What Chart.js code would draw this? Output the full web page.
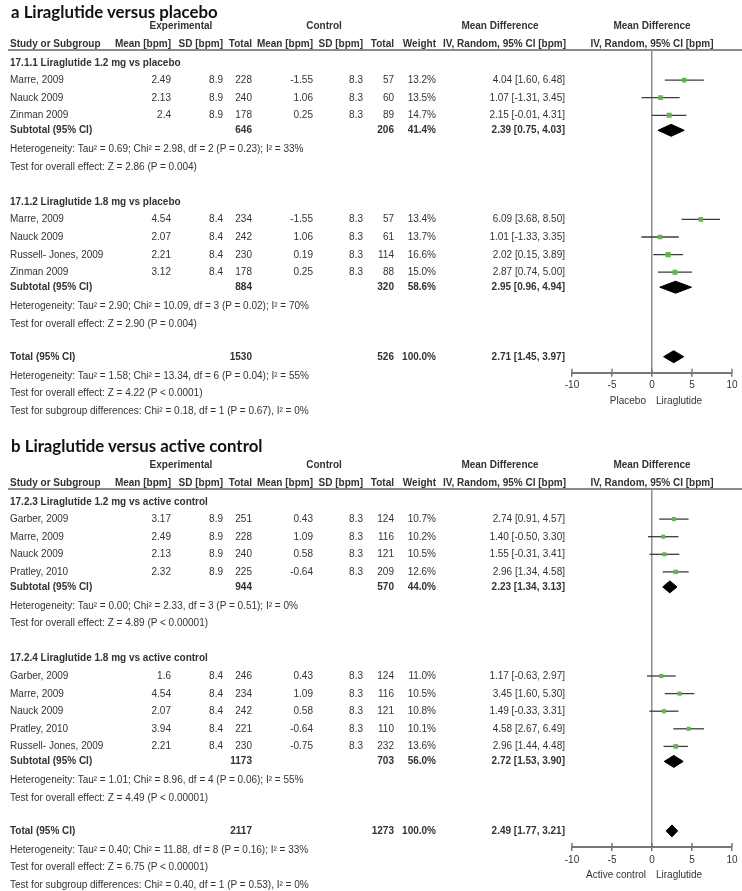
<!DOCTYPE html>
<html>
<head>
<meta charset="utf-8">
<script src="https://cdn.jsdelivr.net/npm/chart.js@4.4.1/dist/chart.umd.min.js"></script>
<style>
  body { margin: 0; background: #fff; }
  #page { position: relative; width: 742px; height: 891px; overflow: hidden;
          font-family: "Liberation Sans", Arial, sans-serif; font-size: 10px; color: #333; }
  .panel { position: absolute; left: 0; width: 742px; }
  .panel canvas { position: absolute; left: 0; top: 0; }
  .t { position: absolute; white-space: nowrap; line-height: 12px; }
  .b { font-weight: bold; }
  .r { transform: translateX(-100%); }
  .c { transform: translateX(-50%); }
  .title { position: absolute; left: 11px; white-space: nowrap; font-family: Lato, "Open Sans", sans-serif;
           font-weight: bold; color: #111; line-height: 1; }
  .rule { position: absolute; left: 8px; right: 0; height: 2px; background: #8c8c8c; }
</style>
</head>
<body>
<div id="page"></div>
<script>
// axis of the forest plots
var axisTicks = [-10, -5, 0, 5, 10];

// ---- a: liraglutide vs placebo ----
var aTitle = 'a Liraglutide versus placebo';
var aFavours = ['Placebo', 'Liraglutide'];
var aGroupNames = ['17.1.1 Liraglutide 1.2 mg vs placebo', '17.1.2 Liraglutide 1.8 mg vs placebo'];
var aGroup   = [0, 0, 0, 1, 1, 1, 1];
var aStudy   = ['Marre, 2009', 'Nauck 2009', 'Zinman 2009', 'Marre, 2009', 'Nauck 2009', 'Russell- Jones, 2009', 'Zinman 2009'];
var aExpMean = [2.49, 2.13, 2.4, 4.54, 2.07, 2.21, 3.12];
var aExpSD   = [8.9, 8.9, 8.9, 8.4, 8.4, 8.4, 8.4];
var aExpN    = [228, 240, 178, 234, 242, 230, 178];
var aCtlMean = [-1.55, 1.06, 0.25, -1.55, 1.06, 0.19, 0.25];
var aCtlSD   = [8.3, 8.3, 8.3, 8.3, 8.3, 8.3, 8.3];
var aCtlN    = [57, 60, 89, 57, 61, 114, 88];
var aWeight  = [13.2, 13.5, 14.7, 13.4, 13.7, 16.6, 15.0];
var aMD      = [4.04, 1.07, 2.15, 6.09, 1.01, 2.02, 2.87];
var aLo      = [1.60, -1.31, -0.01, 3.68, -1.33, 0.15, 0.74];
var aHi      = [6.48, 3.45, 4.31, 8.50, 3.35, 3.89, 5.00];
var aSubExpN   = [646, 884];
var aSubCtlN   = [206, 320];
var aSubWeight = [41.4, 58.6];
var aSubMD     = [2.39, 2.95];
var aSubLo     = [0.75, 0.96];
var aSubHi     = [4.03, 4.94];
var aSubHet  = ['Heterogeneity: Tau² = 0.69; Chi² = 2.98, df = 2 (P = 0.23); I² = 33%',
                'Heterogeneity: Tau² = 2.90; Chi² = 10.09, df = 3 (P = 0.02); I² = 70%'];
var aSubTest = ['Test for overall effect: Z = 2.86 (P = 0.004)',
                'Test for overall effect: Z = 2.90 (P = 0.004)'];
var aTot     = [1530, 526, 100.0, 2.71, 1.45, 3.97];   // exp N, ctl N, weight, MD, lo, hi
var aTotText = ['Heterogeneity: Tau² = 1.58; Chi² = 13.34, df = 6 (P = 0.04); I² = 55%',
                'Test for overall effect: Z = 4.22 (P < 0.0001)',
                'Test for subgroup differences: Chi² = 0.18, df = 1 (P = 0.67), I² = 0%'];

// ---- b: liraglutide vs active control ----
var bTitle = 'b Liraglutide versus active control';
var bFavours = ['Active control', 'Liraglutide'];
var bGroupNames = ['17.2.3 Liraglutide 1.2 mg vs active control', '17.2.4 Liraglutide 1.8 mg vs active control'];
var bGroup   = [0, 0, 0, 0, 1, 1, 1, 1, 1];
var bStudy   = ['Garber, 2009', 'Marre, 2009', 'Nauck 2009', 'Pratley, 2010',
                'Garber, 2009', 'Marre, 2009', 'Nauck 2009', 'Pratley, 2010', 'Russell- Jones, 2009'];
var bExpMean = [3.17, 2.49, 2.13, 2.32, 1.6, 4.54, 2.07, 3.94, 2.21];
var bExpSD   = [8.9, 8.9, 8.9, 8.9, 8.4, 8.4, 8.4, 8.4, 8.4];
var bExpN    = [251, 228, 240, 225, 246, 234, 242, 221, 230];
var bCtlMean = [0.43, 1.09, 0.58, -0.64, 0.43, 1.09, 0.58, -0.64, -0.75];
var bCtlSD   = [8.3, 8.3, 8.3, 8.3, 8.3, 8.3, 8.3, 8.3, 8.3];
var bCtlN    = [124, 116, 121, 209, 124, 116, 121, 110, 232];
var bWeight  = [10.7, 10.2, 10.5, 12.6, 11.0, 10.5, 10.8, 10.1, 13.6];
var bMD      = [2.74, 1.40, 1.55, 2.96, 1.17, 3.45, 1.49, 4.58, 2.96];
var bLo      = [0.91, -0.50, -0.31, 1.34, -0.63, 1.60, -0.33, 2.67, 1.44];
var bHi      = [4.57, 3.30, 3.41, 4.58, 2.97, 5.30, 3.31, 6.49, 4.48];
var bSubExpN   = [944, 1173];
var bSubCtlN   = [570, 703];
var bSubWeight = [44.0, 56.0];
var bSubMD     = [2.23, 2.72];
var bSubLo     = [1.34, 1.53];
var bSubHi     = [3.13, 3.90];
var bSubHet  = ['Heterogeneity: Tau² = 0.00; Chi² = 2.33, df = 3 (P = 0.51); I² = 0%',
                'Heterogeneity: Tau² = 1.01; Chi² = 8.96, df = 4 (P = 0.06); I² = 55%'];
var bSubTest = ['Test for overall effect: Z = 4.89 (P < 0.00001)',
                'Test for overall effect: Z = 4.49 (P < 0.00001)'];
var bTot     = [2117, 1273, 100.0, 2.49, 1.77, 3.21];
var bTotText = ['Heterogeneity: Tau² = 0.40; Chi² = 11.88, df = 8 (P = 0.16); I² = 33%',
                'Test for overall effect: Z = 6.75 (P < 0.00001)',
                'Test for subgroup differences: Chi² = 0.40, df = 1 (P = 0.53), I² = 0%'];

// column x positions (right edge unless noted)
var COL = { name: 10, expMean: 171, expSD: 223, expN: 252, ctlMean: 313, ctlSD: 363, ctlN: 394,
            weight: 436, ci: 565, mdHead: 500, ciHead: 566, plotHead: 652, plotL: 572, plotR: 732 };
// vertical gaps between row kinds
var GAP = { first: 12.5, study: 17.6, subtotal: 15, het: 19, test: 17.5, section: 35, total: 33 };

var page = document.getElementById('page');
var titleSize = (function () {
    var ctx = document.createElement('canvas').getContext('2d');
    ctx.font = 'bold 20px Lato';
    return 20 * 207 / ctx.measureText(aTitle).width;
})();

// tick marks reaching above the axis line too
var upTicks = {
    id: 'upTicks',
    afterDraw: function (chart) {
        var s = chart.scales.x, c = chart.ctx, y = chart.chartArea.bottom;
        c.save();
        c.strokeStyle = '#777';
        c.lineWidth = 1.5;
        s.ticks.forEach(function (t) {
            var x = s.getPixelForValue(t.value);
            c.beginPath(); c.moveTo(x, y - 4); c.lineTo(x, y); c.stroke();
        });
        c.restore();
    }
};

function ci(m, lo, hi) {
    return m.toFixed(2) + ' [' + lo.toFixed(2) + ', ' + hi.toFixed(2) + ']';
}

function buildPanel(p, top, height, titleBase) {
    var el = document.createElement('div');
    el.className = 'panel';
    el.style.top = top + 'px';
    el.style.height = height + 'px';
    page.appendChild(el);
    var cv = document.createElement('canvas');
    cv.width = 742; cv.height = height;
    el.appendChild(cv);

    function txt(s, x, y, align, bold) {
        var d = document.createElement('div');
        d.className = 't' + (align == 'r' ? ' r' : align == 'c' ? ' c' : '') + (bold ? ' b' : '');
        d.style.left = x + 'px';
        d.style.top = (y - 6) + 'px';
        d.textContent = s;
        el.appendChild(d);
    }

    var tt = document.createElement('div');
    tt.className = 'title';
    tt.style.fontSize = titleSize.toFixed(2) + 'px';
    tt.style.top = (titleBase - 0.887 * titleSize) + 'px';
    tt.textContent = p.title;
    el.appendChild(tt);

    txt('Experimental', 181, 26, 'c', true);
    txt('Control', 324, 26, 'c', true);
    txt('Mean Difference', COL.mdHead, 26, 'c', true);
    txt('Mean Difference', COL.plotHead, 26, 'c', true);
    txt('Study or Subgroup', COL.name, 44, 'l', true);
    txt('Mean [bpm]', COL.expMean, 44, 'r', true);
    txt('SD [bpm]', COL.expSD, 44, 'r', true);
    txt('Total', COL.expN, 44, 'r', true);
    txt('Mean [bpm]', COL.ctlMean, 44, 'r', true);
    txt('SD [bpm]', COL.ctlSD, 44, 'r', true);
    txt('Total', COL.ctlN, 44, 'r', true);
    txt('Weight', COL.weight, 44, 'r', true);
    txt('IV, Random, 95% CI [bpm]', COL.ciHead, 44, 'r', true);
    txt('IV, Random, 95% CI [bpm]', COL.plotHead, 44, 'c', true);
    var lineY = 50;
    var rule = document.createElement('div');
    rule.className = 'rule';
    rule.style.top = (lineY - 1) + 'px';
    el.appendChild(rule);

    var ciLines = [], squares = [], diamonds = [];
    var y = lineY;
    for (var g = 0; g < p.groupNames.length; g++) {
        y += g == 0 ? GAP.first : GAP.section;
        txt(p.groupNames[g], COL.name, y, 'l', true);
        for (var i = 0; i < p.study.length; i++) {
            if (p.group[i] != g) continue;
            y += GAP.study;
            txt(p.study[i], COL.name, y, 'l');
            txt(String(p.expMean[i]), COL.expMean, y, 'r');
            txt(String(p.expSD[i]), COL.expSD, y, 'r');
            txt(String(p.expN[i]), COL.expN, y, 'r');
            txt(String(p.ctlMean[i]), COL.ctlMean, y, 'r');
            txt(String(p.ctlSD[i]), COL.ctlSD, y, 'r');
            txt(String(p.ctlN[i]), COL.ctlN, y, 'r');
            txt(p.weight[i].toFixed(1) + '%', COL.weight, y, 'r');
            txt(ci(p.md[i], p.lo[i], p.hi[i]), COL.ci, y, 'r');
            ciLines.push({ lo: p.lo[i], hi: p.hi[i], y: y });
            squares.push({ x: p.md[i], y: y, w: p.weight[i] });
        }
        y += GAP.subtotal;
        txt('Subtotal (95% CI)', COL.name, y, 'l', true);
        txt(String(p.subExpN[g]), COL.expN, y, 'r', true);
        txt(String(p.subCtlN[g]), COL.ctlN, y, 'r', true);
        txt(p.subWeight[g].toFixed(1) + '%', COL.weight, y, 'r', true);
        txt(ci(p.subMD[g], p.subLo[g], p.subHi[g]), COL.ci, y, 'r', true);
        diamonds.push({ lo: p.subLo[g], md: p.subMD[g], hi: p.subHi[g], y: y, h: 6 });
        y += GAP.het;
        txt(p.subHet[g], COL.name, y, 'l');
        y += GAP.test;
        txt(p.subTest[g], COL.name, y, 'l');
    }
    y += GAP.total;
    var t = p.tot;
    txt('Total (95% CI)', COL.name, y, 'l', true);
    txt(String(t[0]), COL.expN, y, 'r', true);
    txt(String(t[1]), COL.ctlN, y, 'r', true);
    txt(t[2].toFixed(1) + '%', COL.weight, y, 'r', true);
    txt(ci(t[3], t[4], t[5]), COL.ci, y, 'r', true);
    diamonds.push({ lo: t[4], md: t[3], hi: t[5], y: y, h: 6 });
    var axisY = y + 16;
    y += GAP.het;  txt(p.totText[0], COL.name, y, 'l');
    y += GAP.test; txt(p.totText[1], COL.name, y, 'l');
    y += GAP.test; txt(p.totText[2], COL.name, y, 'l');
    txt(p.favours[0], COL.plotHead - 6, axisY + 28, 'r');
    txt(p.favours[1], COL.plotHead + 4, axisY + 28, 'l');

    var datasets = [];
    ciLines.forEach(function (m) {
        datasets.push({ data: [{ x: m.lo, y: m.y }, { x: m.hi, y: m.y }], showLine: true,
            borderColor: '#3c3c3c', borderWidth: 1.3, pointRadius: 0, order: 2 });
    });
    datasets.push({ data: squares.map(function (m) { return { x: m.x, y: m.y }; }),
        pointStyle: 'rect', pointRadius: squares.map(function (m) { return 3.3 * Math.sqrt(m.w / 13.5); }),
        backgroundColor: '#62b54d', borderWidth: 0, order: 0 });
    diamonds.forEach(function (m) {
        datasets.push({ data: [{ x: m.lo, y: m.y }, { x: m.md, y: m.y - m.h }, { x: m.hi, y: m.y },
                               { x: m.md, y: m.y + m.h }, { x: m.lo, y: m.y }],
            showLine: true, fill: 'shape', backgroundColor: '#000', borderColor: '#000',
            borderWidth: 1, pointRadius: 0, tension: 0, order: 1 });
    });

    var axisH = 22;
    new Chart(cv, {
        type: 'scatter',
        data: { datasets: datasets },
        plugins: [upTicks],
        options: {
            responsive: false,
            animation: false,
            layout: { padding: { left: COL.plotL, right: 742 - COL.plotR, top: lineY, bottom: height - axisY - axisH } },
            scales: {
                x: {
                    type: 'linear',
                    min: axisTicks[0],
                    max: axisTicks[axisTicks.length - 1],
                    afterFit: function (s) { s.height = axisH; },
                    ticks: { stepSize: axisTicks[1] - axisTicks[0], color: '#333', padding: 3, maxRotation: 0,
                             font: { family: 'Liberation Sans', size: 10 } },
                    grid: {
                        color: function (c) { return c.tick && c.tick.value === 0 ? '#8c8c8c' : 'rgba(0,0,0,0)'; },
                        lineWidth: 1.5,
                        tickColor: '#777',
                        tickWidth: 1.5,
                        tickLength: 4
                    },
                    border: { color: '#777', width: 2 }
                },
                y: { type: 'linear', display: false, reverse: true, min: lineY, max: axisY }
            },
            plugins: { legend: { display: false }, tooltip: { enabled: false } }
        }
    });
}

buildPanel({ title: aTitle, favours: aFavours, groupNames: aGroupNames, group: aGroup, study: aStudy,
    expMean: aExpMean, expSD: aExpSD, expN: aExpN, ctlMean: aCtlMean, ctlSD: aCtlSD, ctlN: aCtlN,
    weight: aWeight, md: aMD, lo: aLo, hi: aHi, subExpN: aSubExpN, subCtlN: aSubCtlN, subWeight: aSubWeight,
    subMD: aSubMD, subLo: aSubLo, subHi: aSubHi, subHet: aSubHet, subTest: aSubTest, tot: aTot, totText: aTotText }, 0, 430, 19);
buildPanel({ title: bTitle, favours: bFavours, groupNames: bGroupNames, group: bGroup, study: bStudy,
    expMean: bExpMean, expSD: bExpSD, expN: bExpN, ctlMean: bCtlMean, ctlSD: bCtlSD, ctlN: bCtlN,
    weight: bWeight, md: bMD, lo: bLo, hi: bHi, subExpN: bSubExpN, subCtlN: bSubCtlN, subWeight: bSubWeight,
    subMD: bSubMD, subLo: bSubLo, subHi: bSubHi, subHet: bSubHet, subTest: bSubTest, tot: bTot, totText: bTotText }, 439, 452, 14);
</script>
</body>
</html>
